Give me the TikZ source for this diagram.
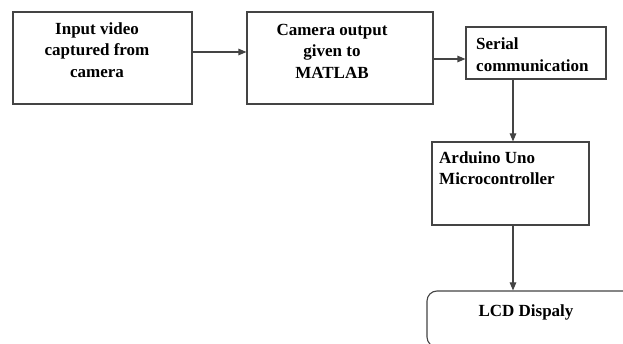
\documentclass[tikz,border=0pt]{standalone}
\usepackage{fontspec}
\setmainfont{Liberation Serif}
\usetikzlibrary{arrows.meta}
\definecolor{linec}{HTML}{444444}
\tikzset{
  box/.style={draw=linec, line width=1.1pt, minimum width=#1, inner sep=0pt},
  lbl/.style={inner sep=0pt, font=\fontsize{17}{21.5}\selectfont\bfseries, text=black},
  conn/.style={draw=linec, line width=1.1pt, -{Triangle[length=8pt,width=6.5pt]}}
}
\begin{document}
\begin{tikzpicture}[x=1pt,y=-1pt]
\useasboundingbox (0,0) rectangle (623,344);
\clip (0,0) rectangle (623,344);
\fill[white] (0,0) rectangle (623,344);
% boxes
\node[box=179pt, minimum height=92pt] (b1) at (102.5,58) {};
\node[box=186pt, minimum height=92pt] (b2) at (340,58) {};
\node[box=140pt, minimum height=52pt] (b3) at (536,53) {};
\node[box=157pt, minimum height=83pt] (b4) at (510.5,183.5) {};
\node[box=233pt, minimum height=56pt, rounded corners=10pt] (b5) at (543.5,319) {};
% texts
\node[lbl, align=center] (t1) at (97,50) {Input video\\captured from\\camera};
\node[lbl, align=center] (t2) at (332,51) {Camera output\\given to\\MATLAB};
\node[lbl, align=left, anchor=west] (t3) at (476,54.5) {Serial\\communication};
\node[lbl, align=left, anchor=west] (t4) at (439,168) {Arduino Uno\\Microcontroller};
\node[lbl] (t5) at (526,312) {LCD Dispaly};
% connectors
\draw[conn] (b1.east |- 0,52) -- (b2.west |- 0,52);
\draw[conn] (b2.east |- 0,59) -- (b3.west |- 0,59);
\draw[conn] (b3.south -| 513,0) -- (b4.north -| 513,0);
\draw[conn] (b4.south -| 513,0) -- (b5.north -| 513,0);
\end{tikzpicture}
\end{document}
